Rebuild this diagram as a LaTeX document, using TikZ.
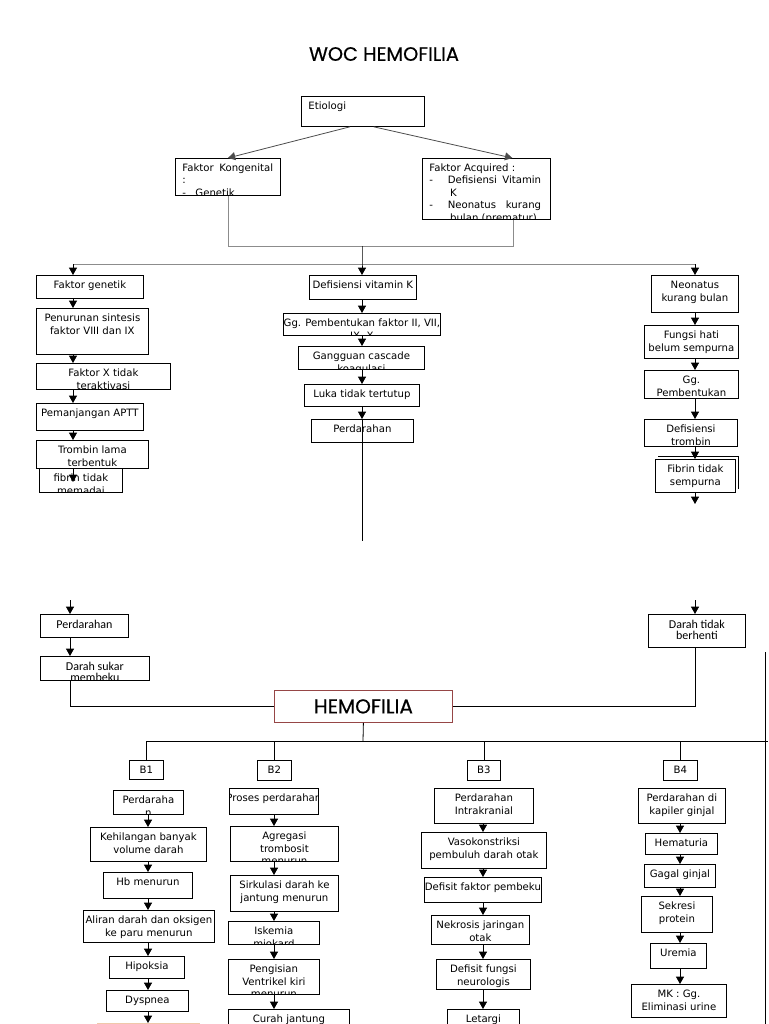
\documentclass[tikz,border=0pt]{standalone}
\usepackage{fontspec}
\setmainfont{DejaVu Sans}
\newfontfamily\cfont{Carlito}
\newfontfamily\titlefont{Poppins}[FakeBold=0.6]
\usepackage{tikz}
\usepackage{xcolor}
\usetikzlibrary{arrows.meta}
\definecolor{hemored}{RGB}{150,70,70}
\definecolor{peach}{RGB}{240,200,170}
\newcommand\bxfont{\fontsize{7.6}{9.4}\selectfont}
\newcommand\cbxfont{\cfont\fontsize{9}{8.5}\selectfont}
\tikzset{txt/.style={inner sep=1pt, minimum width=0pt, minimum height=0pt},
 box/.style={draw, rectangle, inner sep=0pt, line width=.6pt,
  path picture={\node[txt, anchor=north, align=center, font=\bxfont]
   at ([yshift=-3pt]path picture bounding box.north) {#1};}},
 lbox/.style={draw, rectangle, inner sep=0pt, line width=.6pt,
  path picture={\node[txt, anchor=north west, align=left, font=\bxfont]
   at ([xshift=4pt, yshift=-2.5pt]path picture bounding box.north west) {#1};}},
 cbox/.style={draw, rectangle, inner sep=0pt, line width=.6pt,
  path picture={\node[txt, anchor=north, align=center, font=\cbxfont]
   at ([yshift=-3pt]path picture bounding box.north) {#1};}},
 sz/.style 2 args={minimum width=#1*0.75pt, minimum height=#2*0.75pt, anchor=north west},
 arr/.style={line width=.6pt, -{Triangle[width=6pt,length=5.5pt]}},
 gline/.style={line width=.6pt, draw=black!45},
 line/.style={line width=.6pt},
 }

\begin{document}
\begin{tikzpicture}[x=0.75pt, y=-0.75pt]
    \useasboundingbox (0,0) rectangle (768,1024);
    \clip (0,0) rectangle (768,1024);
    % column axes
    \coordinate (c1) at (73,0);
    \coordinate (c2) at (362,0);
    \coordinate (c3) at (695,0);
    \coordinate (c4) at (70,0);
    \coordinate (b1) at (148,0);
    \coordinate (b2) at (274,0);
    \coordinate (b3) at (483,0);
    \coordinate (b4) at (680,0);

    \node[font=\titlefont\fontsize{14.5}{16}\selectfont] (title) at (384,54) {WOC HEMOFILIA};

    % etiologi
    \node[lbox={Etiologi}, sz={123}{30}] (etio) at (301,96) {};
    \node[lbox={\makebox[68pt][s]{Faktor Kongenital}\\:\\-\hspace{7pt}Genetik}, sz={105}{37}] (kong) at (175,158) {};
    \node[lbox={Faktor Acquired :\\-\hspace{11pt}\makebox[70pt][s]{Defisiensi Vitamin}\\\hspace{15.5pt}K\\-\hspace{11pt}\makebox[70pt][s]{Neonatus kurang}\\\hspace{15.5pt}bulan (prematur)}, sz={128}{61}] (acq) at (422,158) {};
    \draw[arr, black!70] (etio.230) -- (kong.north);
    \draw[arr, black!70] (etio.305) -- (acq.50);

    \coordinate (kj) at (228,246);
    \coordinate (aj) at (513,246);
    \coordinate (jn) at (362,246);
    \coordinate (hl) at (73,264);
    \coordinate (hr) at (695,264);
    \draw[gline] (kong.south -| kj) -- (kj) -- (aj) -- (acq.south -| aj);
    \draw[gline] (hl) -- (hr);
    \draw[arr] (jn) -- (hl -| c2) -- (c2 |- 0,275);
    \draw[arr] (hl) -- (c1 |- 0,275);
    \draw[arr] (hr) -- (c3 |- 0,275);

    % faktor genetik
    \node[box={Faktor genetik}, sz={107}{23}] (fgen) at (36,275) {};
    \node[box={Penurunan sintesis\\faktor VIII dan IX}, sz={112}{46}] (penur) at (36,308) {};
    \node[box={Faktor X tidak\\teraktivasi}, sz={134}{26}] (fx) at (36,363) {};
    \node[box={Pemanjangan APTT}, sz={107}{27}] (aptt) at (36,403) {};
    \node[box={Trombin lama\\terbentuk}, sz={112}{28}] (tromb) at (36,440) {};
    \node[box={fibrin tidak\\memadai}, sz={83}{24}] (fibr) at (39,468) {};
    \coordinate (fibtip) at (73,482);
    \foreach \a/\b in {fgen/penur, penur/fx, fx/aptt, aptt/tromb}
        \draw[arr] (\a.south -| c1) -- (\b.north -| c1);
    \draw[arr] (tromb.south -| c1) -- (fibtip);

    % defisiensi vitamin K
    \node[box={Defisiensi vitamin K}, sz={107}{24}] (vitk) at (309,275) {};
    \node[box={Gg. Pembentukan faktor II, VII,\\IX, X}, sz={157}{22}] (ggf) at (283,313) {};
    \node[box={Gangguan cascade\\koagulasi}, sz={126}{23}] (casc) at (298,346) {};
    \node[box={Luka tidak tertutup}, sz={115}{22}] (luka) at (304,384) {};
    \node[box={Perdarahan}, sz={102}{23}] (perd1) at (311,419) {};
    \coordinate (mend) at (362,541);
    \foreach \a/\b in {vitk/ggf, ggf/casc, casc/luka, luka/perd1}
        \draw[arr] (\a.south -| c2) -- (\b.north -| c2);
    \draw[line] (perd1.north -| c2) -- (mend);

    % neonatus
    \node[box={Neonatus\\kurang bulan}, sz={87}{37}] (neo) at (651,275) {};
    \node[box={Fungsi hati\\belum sempurna}, sz={94}{33}] (hati) at (644,325) {};
    \node[box={Gg.\\Pembentukan\\fibrin}, sz={94}{28}] (ggp) at (644,370) {};
    \node[box={Defisiensi\\trombin}, sz={93}{27}] (deftr) at (644,419) {};
    \draw[line] (658,456) -| (738,489);
    \node[box={Fibrin tidak\\sempurna}, sz={80}{33}, fill=white] (fibs) at (655,459) {};
    \coordinate (rend) at (695,504);
    \foreach \a/\b in {neo/hati, hati/ggp, ggp/deftr, deftr/fibs}
        \draw[arr] (\a.south -| c3) -- (\b.north -| c3);
    \draw[arr] (fibs.south -| c3) -- (rend);

    % lanjutan
    \coordinate (lstart) at (70,600);
    \coordinate (rstart) at (695,600);
    \node[cbox={Perdarahan}, sz={88}{23}] (perd2) at (40,614) {};
    \node[cbox={Darah sukar\\membeku}, sz={109}{24}] (sukar) at (40,656) {};
    \node[cbox={Darah tidak\\berhenti}, sz={97}{33}] (berh) at (648,614) {};
    \draw[arr] (lstart) -- (perd2.north -| c4);
    \draw[arr] (perd2.south -| c4) -- (sukar.north -| c4);
    \draw[arr] (rstart) -- (berh.north -| c3);

    \node[draw=hemored, line width=.6pt, sz={178}{32}] (hemo) at (274,690) {};
    \node[font=\titlefont\fontsize{15}{16}\selectfont] (hemotxt) at (hemo.center) {HEMOFILIA};
    \draw[line] (sukar.south -| c4) |- (hemo.west);
    \draw[line] (berh.south -| c3) |- (hemo.east);

    \coordinate (busm) at (363,741);
    \coordinate (busl) at (147,741);
    \coordinate (busr) at (768,741);
    \coordinate (rv1) at (765,652);
    \coordinate (rv2) at (765,1024);
    \draw[line] (hemo.south) -- (busm);
    \draw[line] (busl) -- (busr);
    \draw[line] (rv1) -- (rv2);

    \node[box={B1}, sz={34}{19}] (bb1) at (129,760) {};
    \node[box={B2}, sz={34}{20}] (bb2) at (257,760) {};
    \node[box={B3}, sz={33}{20}] (bb3) at (467,760) {};
    \node[box={B4}, sz={34}{20}] (bb4) at (663,760) {};
    \foreach \n in {bb1, bb2, bb3, bb4}
        \draw[line] (\n.north) -- (\n.north |- busl);

    % B1
    \node[box={Perdaraha\\n}, sz={70}{24}] (p1) at (113,790) {};
    \node[box={Kehilangan banyak\\volume darah}, sz={116}{34}] (kehil) at (90,827) {};
    \node[box={Hb menurun}, sz={89}{26}] (hb) at (103,872) {};
    \node[box={Aliran darah dan oksigen\\ke paru menurun}, sz={131}{32}] (alir) at (83,910) {};
    \node[box={Hipoksia}, sz={75}{22}] (hipo) at (109,956) {};
    \node[box={Dyspnea}, sz={82}{21}] (dysp) at (106,990) {};
    \node[draw=peach, line width=.6pt, sz={102}{30}] (nxt) at (97,1023) {};
    \foreach \a/\b in {p1/kehil, kehil/hb, hb/alir, alir/hipo, hipo/dysp, dysp/nxt}
        \draw[arr] (\a.south -| b1) -- (\b.north -| b1);

    % B2
    \node[box={Proses perdarahan}, sz={89}{26}] (pros) at (229,788) {};
    \node[box={Agregasi\\trombosit\\menurun}, sz={108}{35}] (agre) at (230,826) {};
    \node[box={Sirkulasi darah ke\\jantung menurun}, sz={108}{36}] (sirk) at (230,875) {};
    \node[box={Iskemia\\miokard}, sz={91}{23}] (iske) at (228,921) {};
    \node[box={Pengisian\\Ventrikel kiri\\menurun}, sz={91}{35}] (peng) at (228,959) {};
    \node[box={Curah jantung}, sz={121}{30}] (curah) at (228,1009) {};
    \foreach \a/\b in {pros/agre, agre/sirk, sirk/iske, iske/peng, peng/curah}
        \draw[arr] (\a.south -| b2) -- (\b.north -| b2);

    % B3
    \node[box={Perdarahan\\Intrakranial}, sz={99}{35}] (pint) at (434,788) {};
    \node[box={Vasokonstriksi\\pembuluh darah otak}, sz={125}{36}] (vaso) at (421,832) {};
    \node[box={Defisit faktor pembeku}, sz={117}{25}] (dpemb) at (424,877) {};
    \node[box={Nekrosis jaringan\\otak}, sz={98}{29}] (nekr) at (431,915) {};
    \node[box={Defisit fungsi\\neurologis}, sz={94}{30}] (dfn) at (436,959) {};
    \node[box={Letargi}, sz={72}{30}] (let) at (447,1009) {};
    \foreach \a/\b in {pint/vaso, vaso/dpemb, dpemb/nekr, nekr/dfn, dfn/let}
        \draw[arr] (\a.south -| b3) -- (\b.north -| b3);

    % B4
    \node[box={Perdarahan di\\kapiler ginjal}, sz={87}{35}] (pkap) at (638,788) {};
    \node[box={Hematuria}, sz={72}{21}] (hema) at (645,833) {};
    \node[box={Gagal ginjal}, sz={71}{23}] (gagal) at (644,864) {};
    \node[box={Sekresi\\protein}, sz={71}{36}] (sekr) at (641,896) {};
    \node[box={Uremia}, sz={56}{25}] (urem) at (650,943) {};
    \node[box={MK : Gg.\\Eliminasi urine}, sz={95}{33}] (mk) at (631,984) {};
    \foreach \a/\b in {pkap/hema, hema/gagal, gagal/sekr, sekr/urem, urem/mk}
        \draw[arr] (\a.south -| b4) -- (\b.north -| b4);
\end{tikzpicture}
\end{document}
